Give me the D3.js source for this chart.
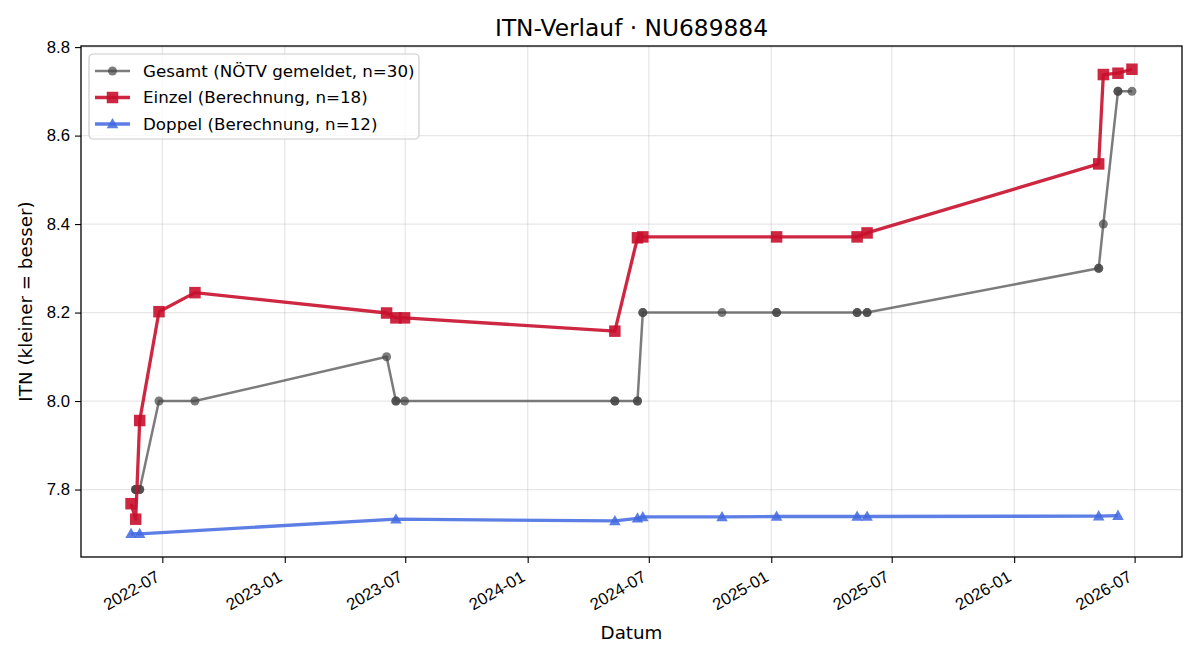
<!DOCTYPE html>
<html>
<head>
<meta charset="utf-8">
<script src="https://cdn.jsdelivr.net/npm/d3@7"></script>
<style>
  body { margin: 0; background: #fff; }
  svg { font-family: "DejaVu Sans", sans-serif; }
</style>
</head>
<body>
<svg width="1200" height="660"></svg>
<script>
// ---- data ----
const gesamtDates = ['2022-05-22','2022-05-22','2022-05-22','2022-05-28','2022-05-28','2022-06-26','2022-08-19',
  '2023-06-03','2023-06-17','2023-06-17','2023-06-30','2024-05-11','2024-05-11','2024-06-14','2024-06-14',
  '2024-06-22','2024-06-22','2024-10-19','2025-01-09','2025-01-09','2025-05-10','2025-05-10','2025-05-25',
  '2025-05-25','2026-05-08','2026-05-08','2026-05-15','2026-06-06','2026-06-06','2026-06-27'];
const gesamtValues = [7.8,7.8,7.8,7.8,7.8,8.0,8.0,
  8.1,8.0,8.0,8.0,8.0,8.0,8.0,8.0,
  8.2,8.2,8.2,8.2,8.2,8.2,8.2,8.2,
  8.2,8.3,8.3,8.4,8.7,8.7,8.7];

const einzelDates = ['2022-05-15','2022-05-22','2022-05-28','2022-06-26','2022-08-19','2023-06-03',
  '2023-06-17','2023-06-30','2024-05-11','2024-06-14','2024-06-22','2025-01-09','2025-05-10',
  '2025-05-25','2026-05-08','2026-05-15','2026-06-06','2026-06-27'];
const einzelValues = [7.768,7.733,7.956,8.202,8.245,8.199,8.188,8.188,8.158,8.369,8.371,8.371,8.371,
  8.380,8.536,8.738,8.741,8.750];

const doppelDates = ['2022-05-15','2022-05-28','2023-06-17','2024-05-11','2024-06-14','2024-06-22',
  '2024-10-19','2025-01-09','2025-05-10','2025-05-25','2026-05-08','2026-06-06'];
const doppelValues = [7.700,7.700,7.733,7.729,7.735,7.738,7.738,7.739,7.739,7.739,7.740,7.741];

const yTicks = [7.8, 8.0, 8.2, 8.4, 8.6, 8.8];

const titleText = 'ITN-Verlauf · NU689884';
const xLabel = 'Datum';
const yLabel = 'ITN  (kleiner = besser)';
const legendLabels = ['Gesamt (NÖTV gemeldet, n=30)', 'Einzel (Berechnung, n=18)', 'Doppel (Berechnung, n=12)'];

// ---- setup ----
const parse = d3.timeParse('%Y-%m-%d');
const zip = (ds, vs) => ds.map((d, i) => ({date: parse(d), value: vs[i]}));

const series = [
  {name: legendLabels[0], data: zip(gesamtDates, gesamtValues), color: '#444444', alpha: 0.7, lw: 2.5, marker: 'circle', size: 9},
  {name: legendLabels[1], data: zip(einzelDates, einzelValues), color: '#c8102e', alpha: 0.9, lw: 3.3, marker: 'square', size: 11.5},
  {name: legendLabels[2], data: zip(doppelDates, doppelValues), color: '#4169E1', alpha: 0.85, lw: 3.3, marker: 'triangle', size: 11.5}
];

const svg = d3.select('svg');
const margin = {left: 81, right: 18, top: 46, bottom: 103};
const W = 1200, H = 660;

const all = series.flatMap(s => s.data);
const [t0, t1] = d3.extent(all, d => d.date);
const padT = (t1 - t0) * 0.05;
const [v0, v1] = d3.extent(all, d => d.value);
const padV = (v1 - v0) * 0.05;

const x = d3.scaleTime()
  .domain([new Date(+t0 - padT), new Date(+t1 + padT)])
  .range([margin.left, W - margin.right]);
const y = d3.scaleLinear()
  .domain([v0 - padV, v1 + padV])
  .range([H - margin.bottom, margin.top]);

const xTicks = x.ticks(d3.timeMonth.every(6));

// grid
const grid = svg.append('g');
grid.selectAll('.gx').data(xTicks).join('line')
  .attr('x1', d => x(d)).attr('x2', d => x(d))
  .attr('y1', margin.top).attr('y2', H - margin.bottom)
  .attr('stroke', '#b0b0b0').attr('stroke-opacity', 0.3).attr('stroke-width', 1.3);
grid.selectAll('.gy').data(yTicks).join('line')
  .attr('x1', margin.left).attr('x2', W - margin.right)
  .attr('y1', d => y(d)).attr('y2', d => y(d))
  .attr('stroke', '#b0b0b0').attr('stroke-opacity', 0.3).attr('stroke-width', 1.3);

// axes
const xAxis = svg.append('g')
  .attr('transform', `translate(0,${H - margin.bottom})`)
  .call(d3.axisBottom(x).tickValues(xTicks).tickFormat(d3.timeFormat('%Y-%m')).tickSizeOuter(0).tickSize(6).tickPadding(5));
// rotated like autofmt_xdate: right end of the label under the tick
xAxis.selectAll('text')
  .attr('font-size', 16.7).attr('fill', '#000')
  .attr('text-anchor', 'end')
  .attr('x', 0).attr('y', 0).attr('dy', 0)
  .attr('transform', 'translate(-2,23) rotate(-30)');

const yAxis = svg.append('g')
  .attr('transform', `translate(${margin.left},0)`)
  .call(d3.axisLeft(y).tickValues(yTicks).tickFormat(d3.format('.1f')).tickSizeOuter(0).tickSize(6).tickPadding(5));
yAxis.selectAll('text').attr('font-size', 16.7).attr('fill', '#000');

[xAxis, yAxis].forEach(a => {
  a.select('.domain').remove();
  a.selectAll('line').attr('stroke', '#000').attr('stroke-width', 1.1);
});

// frame
svg.append('rect')
  .attr('x', margin.left).attr('y', margin.top)
  .attr('width', W - margin.left - margin.right)
  .attr('height', H - margin.top - margin.bottom)
  .attr('fill', 'none').attr('stroke', '#000').attr('stroke-width', 1.3);

// marker shapes
function markerPath(type, size) {
  const h = size / 2;
  if (type === 'square') return `M${-h},${-h}H${h}V${h}H${-h}Z`;
  if (type === 'triangle') return `M0,${-h * 1.05}L${h * 1.0},${h * 0.75}L${-h * 1.0},${h * 0.75}Z`;
  return d3.arc()({innerRadius: 0, outerRadius: h, startAngle: 0, endAngle: 2 * Math.PI});
}

const line = d3.line().x(d => x(d.date)).y(d => y(d.value));

const plot = svg.append('g');
series.forEach(s => {
  const g = plot.append('g');
  g.append('path')
    .datum(s.data)
    .attr('d', line)
    .attr('fill', 'none')
    .attr('stroke', s.color)
    .attr('stroke-opacity', s.alpha)
    .attr('stroke-width', s.lw)
    .attr('stroke-linejoin', 'round');
  g.selectAll('path.m').data(s.data).join('path')
    .attr('class', 'm')
    .attr('transform', d => `translate(${x(d.date)},${y(d.value)})`)
    .attr('d', markerPath(s.marker, s.size))
    .attr('fill', s.color)
    .attr('fill-opacity', s.alpha);
});

// title and labels
svg.append('text')
  .attr('x', (margin.left + W - margin.right) / 2).attr('y', 36)
  .attr('text-anchor', 'middle').attr('font-size', 23.3)
  .text(titleText);
svg.append('text')
  .attr('x', (margin.left + W - margin.right) / 2).attr('y', 639)
  .attr('text-anchor', 'middle').attr('font-size', 18.3)
  .text(xLabel);
svg.append('text')
  .attr('transform', `translate(32,${(margin.top + H - margin.bottom) / 2}) rotate(-90)`)
  .attr('text-anchor', 'middle').attr('font-size', 18.3)
  .text(yLabel);

// legend
const lg = svg.append('g').attr('transform', 'translate(89,54)');
lg.append('rect')
  .attr('width', 330).attr('height', 85).attr('rx', 4)
  .attr('fill', '#fff').attr('fill-opacity', 0.8)
  .attr('stroke', '#cccccc').attr('stroke-width', 1.2);
series.forEach((s, i) => {
  const row = lg.append('g').attr('transform', `translate(0,${17 + i * 26.5})`);
  row.append('line')
    .attr('x1', 6).attr('x2', 41)
    .attr('stroke', s.color).attr('stroke-opacity', s.alpha).attr('stroke-width', s.lw);
  row.append('path')
    .attr('transform', 'translate(23.5,0)')
    .attr('d', markerPath(s.marker, s.size))
    .attr('fill', s.color).attr('fill-opacity', s.alpha);
  row.append('text')
    .attr('x', 54).attr('dy', '0.35em')
    .attr('font-size', 16.7)
    .text(s.name);
});
</script>
</body>
</html>
